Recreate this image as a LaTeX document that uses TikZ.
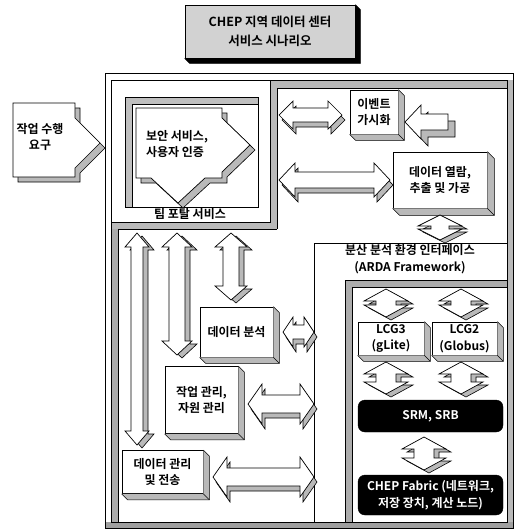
\documentclass[tikz,border=0pt]{standalone}
\usepackage{fontspec}
\setmainfont{Noto Sans CJK KR}[BoldFont={Noto Sans CJK KR Bold}]
\usetikzlibrary{calc}
\newcommand\kf{\fontsize{12}{16.5}\selectfont\bfseries}
\newcommand\mkextr[3]{%
 \fill[#3] (#1.north east) -- ([shift={(#2,#2)}]#1.north east) -- ([shift={(#2,#2)}]#1.south east) -- ([shift={(#2,#2)}]#1.south west) -- (#1.south west) -- (#1.south east) -- cycle;
 \draw[line width=0.6pt] (#1.north east) -- ([shift={(#2,#2)}]#1.north east) -- ([shift={(#2,#2)}]#1.south east) -- ([shift={(#2,#2)}]#1.south west) -- (#1.south west);
 \draw[line width=0.6pt] (#1.south east) -- ([shift={(#2,#2)}]#1.south east);}
% horizontal double block arrow: x1 x2 yc H S L
\newcommand\hdarr[6]{%
 \draw[side,shift={(3,5)}] (#1,#3) -- (#1+#6,#3-#4) -- (#1+#6,#3-#5) -- (#2-#6,#3-#5) -- (#2-#6,#3-#4) -- (#2,#3) -- (#2-#6,#3+#4) -- (#2-#6,#3+#5) -- (#1+#6,#3+#5) -- (#1+#6,#3+#4) -- cycle;
 \draw[face] (#1,#3) -- (#1+#6,#3-#4) -- (#1+#6,#3-#5) -- (#2-#6,#3-#5) -- (#2-#6,#3-#4) -- (#2,#3) -- (#2-#6,#3+#4) -- (#2-#6,#3+#5) -- (#1+#6,#3+#5) -- (#1+#6,#3+#4) -- cycle;}
% vertical double block arrow: xc y1 y2 H S L
\newcommand\vdarr[6]{%
 \draw[side,shift={(5,3)}] (#1,#2) -- (#1+#4,#2+#6) -- (#1+#5,#2+#6) -- (#1+#5,#3-#6) -- (#1+#4,#3-#6) -- (#1,#3) -- (#1-#4,#3-#6) -- (#1-#5,#3-#6) -- (#1-#5,#2+#6) -- (#1-#4,#2+#6) -- cycle;
 \draw[face] (#1,#2) -- (#1+#4,#2+#6) -- (#1+#5,#2+#6) -- (#1+#5,#3-#6) -- (#1+#4,#3-#6) -- (#1,#3) -- (#1-#4,#3-#6) -- (#1-#5,#3-#6) -- (#1-#5,#2+#6) -- (#1-#4,#2+#6) -- cycle;}
\begin{document}
\begin{tikzpicture}[x=1pt,y=-1pt,
 face/.style={draw=black,fill=white,line width=0.7pt},
 side/.style={draw=black,fill=gray!55,line width=0.6pt},
 box/.style={draw=black,fill=white,line width=0.7pt,inner sep=0pt,align=center,font=\kf},
 blk/.style={draw=black,fill=black,rounded corners=7pt,inner sep=0pt,align=center,font=\kf,text=white},
 lbl/.style={font=\kf,align=center,inner sep=0pt}]
\useasboundingbox (0,0) rectangle (519,530);
\fill[white] (0,0) rectangle (519,530);

% title
\node[box, fill=gray!35, minimum width=170, minimum height=53, font=\fontsize{12.5}{19}\selectfont\bfseries] (title) at (270,31.5) {CHEP 지역 데이터 센터\\서비스 시나리오};
\mkextr{title}{5}{black}

% outer frame and bands
\fill[gray!55] (507,80) rectangle (513,522);
\fill[gray!75] (105,522) rectangle (513,528);
\fill[gray!55] (270,80) rectangle (507,88);
\fill[gray!55] (270,80) rectangle (277,229);
\fill[gray!55] (111,222) rectangle (277,229);
\fill[gray!65] (111,229) rectangle (118,522);
\draw[line width=1pt] (105,73) rectangle (513,528);
\draw[line width=0.6pt] (111,522) -- (111,80) -- (507,80) -- (507,522) -- cycle;
\draw[line width=0.6pt] (270,80) -- (270,222) -- (111,222);
\draw[line width=0.6pt] (277,229) -- (277,88) -- (507,88);
\draw[line width=0.6pt] (118,522) -- (118,229) -- (277,229);

% distributed analysis region
\draw[line width=0.7pt] (314,522) -- (314,243) -- (507,243);
\fill[gray!65] (345,280) rectangle (352,522);
\fill[gray!65] (345,280) rectangle (507,287);
\draw[line width=0.7pt] (345,522) -- (345,280) -- (507,280);
\draw[line width=0.6pt] (352,522) -- (352,287) -- (507,287);
\node[lbl] (arda) at (410,259) {분산 분석 환경 인터페이스\\(ARDA Framework)};

% portal inner frame
\fill[gray!50] (125,97) rectangle (258,104);
\fill[gray!50] (125,97) rectangle (132,207);
\draw[line width=0.6pt] (125,97) rectangle (258,207);
\draw[line width=0.6pt] (132,207) -- (132,104) -- (258,104);

% security shape
\draw[side,shift={(5,5)}] (136,108) -- (222,108) -- (222,118) -- (250,145) -- (222,172) -- (222,178) -- (205,178) -- (178,203) -- (151,178) -- (136,178) -- cycle;
\draw[face] (136,108) -- (222,108) -- (222,118) -- (250,145) -- (222,172) -- (222,178) -- (205,178) -- (178,203) -- (151,178) -- (136,178) -- cycle;
\node[lbl, align=left] (sec) at (177,144) {보안 서비스,\\사용자 인증};
\node[lbl] (portal) at (190,214) {팀 포탈 서비스};

% request shape
\draw[side,shift={(5,5)}] (13,103) -- (75,103) -- (75,118) -- (100,143) -- (75,168) -- (75,177) -- (13,177) -- cycle;
\draw[face] (13,103) -- (75,103) -- (75,118) -- (100,143) -- (75,168) -- (75,177) -- (13,177) -- cycle;
\node[lbl] (req) at (40,137) {작업 수행\\요구};

% top right
\hdarr{279}{342}{115}{14}{7}{14}
\node[box, minimum width=48, minimum height=44] (ev) at (374,112) {이벤트\\가시화};
\mkextr{ev}{6}{gray!55}
\draw[side,shift={(7,7)}] (405,122) -- (421,105) -- (421,114) -- (448,114) -- (448,130) -- (421,130) -- (421,139) -- cycle;
\draw[face] (405,122) -- (421,105) -- (421,114) -- (448,114) -- (448,130) -- (421,130) -- (421,139) -- cycle;

\hdarr{279}{390}{180}{17}{8}{16}
\node[box, minimum width=94, minimum height=56] (dv) at (440,180) {데이터 열람,\\추출 및 가공};
\mkextr{dv}{7}{gray!55}
\vdarr{440}{215}{240}{22}{9}{11}

% vertical arrows
\vdarr{137}{233}{445}{12}{6}{14}
\vdarr{177}{233}{355}{15}{8}{14}
\vdarr{231}{233}{300}{16}{8}{14}

% left boxes
\node[box, minimum width=73, minimum height=50] (da) at (236.5,332) {데이터 분석};
\mkextr{da}{6}{gray!55}
\node[box, minimum width=73, minimum height=67] (jm) at (201.5,400) {작업 관리,\\자원 관리};
\mkextr{jm}{6}{gray!55}
\node[box, minimum width=81, minimum height=43] (dm) at (162.5,472) {데이터 관리\\및 전송};
\mkextr{dm}{6}{gray!55}

\hdarr{283}{314}{332}{15}{7}{10}
\hdarr{248}{314}{404}{20}{9}{14}
\hdarr{213}{314}{477}{20}{9}{14}

% grid stack
\vdarr{386}{289}{317}{22}{10}{12}
\vdarr{461}{289}{317}{22}{10}{12}
\node[box, minimum width=66, minimum height=33] (lcg3) at (391,338.5) {LCG3\\(gLite)};
\mkextr{lcg3}{6}{gray!55}
\node[box, minimum width=65, minimum height=33] (lcg2) at (464.5,338.5) {LCG2\\(Globus)};
\mkextr{lcg2}{6}{gray!55}
\vdarr{386}{362}{394}{22}{10}{12}
\vdarr{461}{362}{394}{22}{10}{12}
\node[blk, minimum width=145, minimum height=32] (srm) at (430.5,416) {SRM, SRB};
\vdarr{424}{437}{470}{22}{10}{12}
\node[blk, minimum width=145, minimum height=40] (fab) at (430.5,495) {CHEP Fabric (네트워크,\\저장 장치, 계산 노드)};
\end{tikzpicture}
\end{document}
